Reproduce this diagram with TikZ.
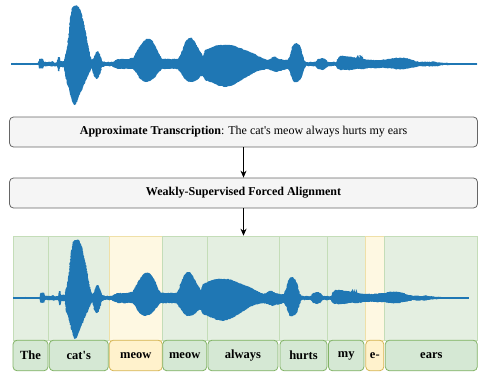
\documentclass[tikz,border=0pt]{standalone}
\usepackage{fontspec}
\setmainfont{Liberation Serif}
\usetikzlibrary{arrows.meta,decorations.pathmorphing}
\definecolor{wavecol}{HTML}{1F77B4}
\definecolor{boxfill}{HTML}{F5F5F5}
\definecolor{boxline}{HTML}{666666}
\definecolor{gfill}{HTML}{D5E8D4}
\definecolor{gline}{HTML}{82B366}
\definecolor{yfill}{HTML}{FFF2CC}
\definecolor{yline}{HTML}{D6B656}
\definecolor{gcol}{HTML}{E4EFE1}
\definecolor{gcolline}{HTML}{C4DDB8}
\definecolor{ycol}{HTML}{FEF8E2}
\definecolor{ycolline}{HTML}{EFE0A8}
\newcommand\wavepath{(11,63.4) -- (38,63.4) -- (39,59) -- (43,59) -- (44,62) -- (50,62) -- (52,61) -- (54,62.5) -- (57,62) -- (58,57) -- (59.5,57) -- (60,61) -- (64,61) -- (65,55) -- (66,53) -- (68,40) -- (70,20) -- (72,8) -- (74,6) -- (77,5.5) -- (79,7) -- (81,12) -- (83,20) -- (86,33) -- (88,45) -- (90,55) -- (92,60) -- (94,58) -- (96,52) -- (98,51) -- (100,55) -- (102,61) -- (105,62) -- (112,62) -- (116,60) -- (118,59) -- (128,59) -- (133,58) -- (135,55) -- (137,51) -- (140,46) -- (143,42) -- (146,39) -- (150,39) -- (153,42) -- (156,47) -- (159,54) -- (162,59) -- (170,59) -- (178,59) -- (180,56) -- (183,48) -- (186,41) -- (189,38) -- (192,38) -- (195,42) -- (198,48) -- (201,53) -- (203,56) -- (205,50) -- (210,48) -- (215,46) -- (220,45) -- (230,45) -- (235,46) -- (240,48) -- (245,50) -- (250,52) -- (255,54) -- (258,56) -- (262,58) -- (267,60) -- (270,59) -- (273,57) -- (276,57) -- (279,59) -- (284,60) -- (288,60) -- (290,55) -- (292,47) -- (294,44) -- (297,43) -- (300,46) -- (302,52) -- (304,60) -- (306,62) -- (315,62) -- (318,59) -- (322,58) -- (325,59) -- (328,62) -- (336,62) -- (338,58) -- (340,56) -- (345,56) -- (352,57) -- (356,58) -- (358,55) -- (359,58) -- (360,55) -- (361,58) -- (362,55) -- (363,59) -- (370,60) -- (380,60) -- (390,59) -- (395,58) -- (400,57.5) -- (405,58) -- (410,59) -- (415,61) -- (420,62) -- (425,61.5) -- (428,62) -- (432,61.5) -- (436,62) -- (440,62.5) -- (445,63) -- (453,63.4) -- (477,63.4) -- (477,64.6) -- (453,64.6) -- (445,65) -- (440,65.5) -- (436,66) -- (432,66.5) -- (428,66) -- (425,66.5) -- (420,66) -- (415,67) -- (410,68) -- (405,69) -- (400,69.5) -- (395,69) -- (390,68) -- (380,68) -- (370,68) -- (363,69) -- (356,69) -- (350,70) -- (340,70) -- (338,69) -- (336,66) -- (328,66) -- (325,69) -- (322,70) -- (318,69) -- (315,66) -- (306,66) -- (304,70) -- (302,76) -- (300,80) -- (297,82) -- (294,82) -- (292,78) -- (290,72) -- (288,69) -- (284,70) -- (279,71) -- (276,72) -- (273,71) -- (270,70) -- (267,69) -- (262,70) -- (258,71) -- (255,72) -- (250,75) -- (245,78) -- (240,81) -- (235,84) -- (230,86) -- (225,87) -- (220,86) -- (215,84) -- (210,82) -- (205,80) -- (203,76) -- (201,76) -- (198,79) -- (195,81) -- (192,82) -- (189,82) -- (186,80) -- (183,76) -- (180,72) -- (178,69) -- (170,69) -- (162,69) -- (159,72) -- (156,76) -- (153,79) -- (150,81) -- (146,82) -- (143,81) -- (140,79) -- (137,74) -- (135,71) -- (133,69) -- (128,69) -- (118,69) -- (116,68) -- (112,66) -- (105,66) -- (102,67) -- (100,74) -- (98,78) -- (96,79) -- (94,76) -- (92,68) -- (90,72) -- (88,76) -- (86,80) -- (83,87) -- (80,94) -- (78,99) -- (76,104) -- (74,105) -- (72,101) -- (70,93) -- (68,86) -- (66,79) -- (65,76) -- (64,67) -- (60,67) -- (59.5,71) -- (58,71) -- (57,66) -- (54,66) -- (52,66.5) -- (50,66) -- (44,66) -- (43,68.5) -- (39,68.5) -- (38,64.6) -- (11,64.6) -- cycle}
\begin{document}
\begin{tikzpicture}[x=1pt,y=-1pt,
  procbox/.style={draw=boxline, fill=boxfill, rounded corners=4pt, line width=0.8pt,
    minimum width=468pt, minimum height=30pt, inner sep=0pt, font=\fontsize{12}{14}\selectfont},
  gcolumn/.style={draw=gcolline, fill=gcol, line width=0.6pt, minimum height=104pt, inner sep=0pt},
  ycolumn/.style={draw=ycolline, fill=ycol, line width=0.6pt, minimum height=104pt, inner sep=0pt},
  glabel/.style={draw=gline, fill=gfill, rounded corners=4pt, line width=0.8pt, minimum height=30.5pt,
    inner sep=0pt, font=\fontsize{12.5}{14}\selectfont\bfseries},
  ylabel/.style={glabel, draw=yline, fill=yfill},
  wave/.style={fill=wavecol, decorate, decoration={random steps, segment length=1.2pt, amplitude=0.45pt}},
  flow/.style={-{Stealth[length=7pt,width=6pt]}, line width=0.9pt, black}]
\useasboundingbox (0,0) rectangle (478,372);
\pgfmathsetseed{7}

% top waveform
\path[wave] \wavepath;
\draw[wavecol, line width=1.2pt] (11,64) -- (477,64);

% process boxes
\node[procbox] (trans) at (243.5,132) {\textbf{Approximate Transcription}: The cat\textquotesingle s meow always hurts my ears};
\node[procbox] (align) at (243.5,193) {\textbf{Weakly-Supervised Forced Alignment}};

% alignment columns
\node[gcolumn, minimum width=35pt] (c1) at (30.5,288) {};
\node[gcolumn, minimum width=61pt] (c2) at (78.5,288) {};
\node[ycolumn, minimum width=53pt] (c3) at (135.5,288) {};
\node[gcolumn, minimum width=45pt] (c4) at (184.5,288) {};
\node[gcolumn, minimum width=72pt] (c5) at (243,288) {};
\node[gcolumn, minimum width=48pt] (c6) at (303,288) {};
\node[gcolumn, minimum width=38pt] (c7) at (346,288) {};
\node[ycolumn, minimum width=19pt] (c8) at (374.5,288) {};
\node[gcolumn, minimum width=93pt] (c9) at (430.5,288) {};

% aligned waveform
\begin{scope}[xshift=2.24pt, yshift=-234pt, xscale=0.9785]
\path[wave] \wavepath;
\draw[wavecol, line width=1.2pt] (11,64) -- (477,64);
\end{scope}

% word labels
\node[glabel, minimum width=35pt] (l1) at (30.5,355.5) {The};
\node[glabel, minimum width=59pt] (l2) at (78.8,355.5) {cat\textquotesingle s};
\node[ylabel, minimum width=53pt] (l3) at (135.8,355.5) {meow};
\node[glabel, minimum width=44pt] (l4) at (184.7,355.5) {meow};
\node[glabel, minimum width=70pt] (l5) at (242.9,355.5) {always};
\node[glabel, minimum width=47pt] (l6) at (303.5,355.5) {hurts};
\node[glabel, minimum width=35.5pt] (l7) at (346.2,355.5) {my};
\node[ylabel, minimum width=18pt] (l8) at (374.8,355.5) {e-};
\node[glabel, minimum width=92pt] (l9) at (431.3,355.5) {ears};

% connectors
\draw[flow] (trans) -- (align);
\draw[flow] (align.south) -- (align.south |- c5.north);
\end{tikzpicture}
\end{document}
